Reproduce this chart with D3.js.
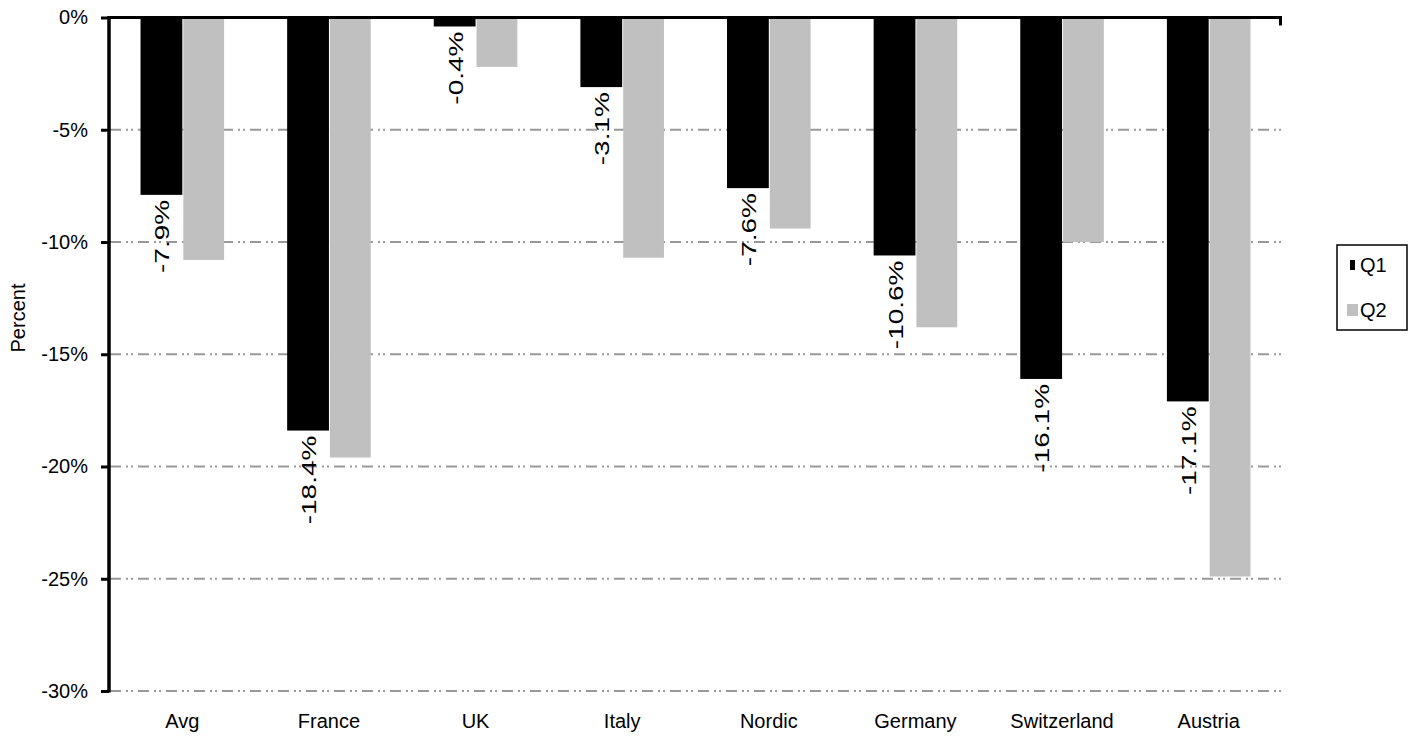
<!DOCTYPE html>
<html>
<head>
<meta charset="utf-8">
<script src="https://cdn.jsdelivr.net/npm/d3@7"></script>
<style>
  html, body { margin: 0; padding: 0; background: #fff; }
  svg { display: block; font-family: "Liberation Sans", Arial, sans-serif; }
</style>
</head>
<body>
<svg id="chart" width="1414" height="740"></svg>
<script>
const categories = ["Avg", "France", "UK", "Italy", "Nordic", "Germany", "Switzerland", "Austria"];
const seriesNames = ["Q1", "Q2"];
const q1Values = [-7.9, -18.4, -0.4, -3.1, -7.6, -10.6, -16.1, -17.1];
const q2Values = [-10.8, -19.6, -2.2, -10.7, -9.4, -13.8, -10.0, -24.9];
const yTicks = [0, -5, -10, -15, -20, -25, -30];
const seriesColors = ["#000000", "#c0c0c0"];

(function () {
const svg = d3.select("#chart");
const pLeft = 109, pRight = 1282, pTop = 17.5, pBottom = 691;
const FS = 20;

const y = d3.scaleLinear().domain([-30, 0]).range([pBottom, pTop]);
const x0 = d3.scaleBand().domain(categories).range([pLeft, pRight]).paddingInner(0.43).paddingOuter(0.215);
const x1 = d3.scaleBand().domain(seriesNames).range([0, x0.bandwidth()]);

// gridlines
svg.append("g").selectAll("line").data(yTicks.filter(d => d !== 0)).join("line")
  .attr("x1", pLeft + 1).attr("x2", pRight)
  .attr("y1", d => y(d)).attr("y2", d => y(d))
  .attr("stroke", "#999").attr("stroke-width", 2)
  .attr("stroke-dasharray", "11,5,2,3,2,5");

// bars
const data = categories.map((c, i) => ({cat: c, vals: [q1Values[i], q2Values[i]]}));
const groups = svg.append("g").selectAll("g").data(data).join("g")
  .attr("transform", d => `translate(${x0(d.cat)},0)`);
groups.selectAll("rect").data(d => d.vals.map((v, j) => ({s: seriesNames[j], v, j}))).join("rect")
  .attr("x", d => x1(d.s) + (d.j === 1 ? 1 : 0))
  .attr("width", d => x1.bandwidth() - (d.j === 1 ? 1 : 0))
  .attr("y", y(0))
  .attr("height", d => y(d.v) - y(0))
  .attr("fill", d => seriesColors[d.j]);

// value labels for Q1
svg.append("g").selectAll("text").data(data).join("text")
  .attr("transform", d => `translate(${x0(d.cat) + x1("Q1") + x1.bandwidth() / 2 + 1},${y(d.vals[0]) + 5}) rotate(-90) scale(1.4,1)`)
  .attr("text-anchor", "end")
  .attr("dy", "0.35em")
  .attr("font-size", FS)
  .text(d => d.vals[0].toFixed(1) + "%");

// y axis
const yAxis = d3.axisLeft(y).tickValues(yTicks).tickFormat(d => d + "%").tickSize(8).tickPadding(13);
const yg = svg.append("g").attr("transform", `translate(${pLeft},0)`).call(yAxis);
yg.select(".domain").remove();
yg.selectAll(".tick line").attr("stroke", "#000").attr("stroke-width", 3);
yg.selectAll(".tick text").attr("font-size", FS).attr("font-family", "Liberation Sans, Arial, sans-serif").attr("fill", "#000");
svg.append("line").attr("x1", pLeft).attr("x2", pLeft).attr("y1", pTop - 1.5).attr("y2", pBottom + 1.5)
  .attr("stroke", "#000").attr("stroke-width", 3.5);

// top (zero) axis line with right tick
svg.append("line").attr("x1", pLeft).attr("x2", pRight).attr("y1", y(0)).attr("y2", y(0))
  .attr("stroke", "#000").attr("stroke-width", 3);
svg.append("line").attr("x1", pRight - 1.5).attr("x2", pRight - 1.5).attr("y1", y(0)).attr("y2", y(0) + 8)
  .attr("stroke", "#000").attr("stroke-width", 3);

// category labels
svg.append("g").selectAll("text").data(categories).join("text")
  .attr("x", d => x0(d) + x0.bandwidth() / 2)
  .attr("y", 728)
  .attr("text-anchor", "middle")
  .attr("font-size", FS)
  .text(d => d);

// y title
svg.append("text").attr("transform", "translate(25,318) rotate(-90)")
  .attr("text-anchor", "middle").attr("font-size", FS).text("Percent");

// legend
const lg = svg.append("g").attr("transform", "translate(1337,245)");
lg.append("rect").attr("x", 0).attr("y", 0).attr("width", 70).attr("height", 85)
  .attr("fill", "#fff").attr("stroke", "#000").attr("stroke-width", 1.5);
const items = lg.selectAll("g").data(seriesNames).join("g")
  .attr("transform", (d, i) => `translate(0,${20 + i * 45})`);
items.append("rect")
  .attr("x", (d, i) => i === 0 ? 13 : 10)
  .attr("y", (d, i) => i === 0 ? -5 : -6)
  .attr("width", (d, i) => i === 0 ? 5 : 11)
  .attr("height", (d, i) => i === 0 ? 10 : 12)
  .attr("fill", (d, i) => seriesColors[i]);
items.append("text").attr("x", 23).attr("dy", "0.35em").attr("font-size", FS).text(d => d);
})();
</script>
</body>
</html>
